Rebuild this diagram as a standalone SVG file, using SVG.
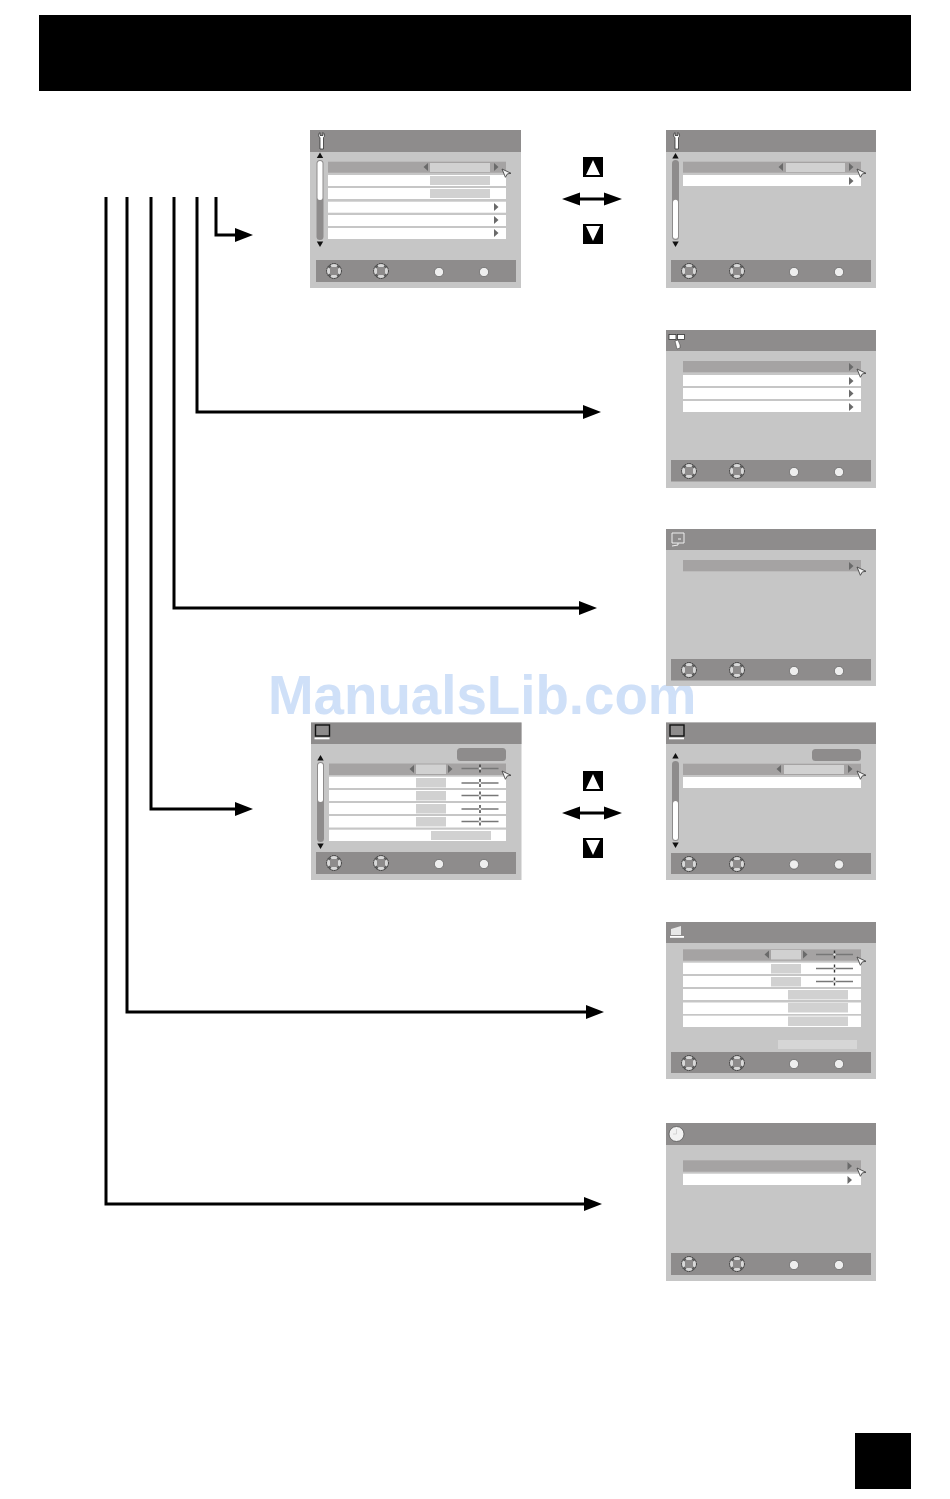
<svg xmlns="http://www.w3.org/2000/svg" width="950" height="1499" viewBox="0 0 950 1499">
<style>
.panel{fill:#c6c6c6}
.bar{fill:#8e8c8c}
.hi{fill:#a5a3a3}
.row{fill:#fff}
.val{fill:#d1d1d1}
.scroll{fill:#8e8c8c}
.thumb{fill:#fff}
.tri{fill:#6a6a6a}
.blk{fill:#000}
.wire{fill:none;stroke:#000;stroke-width:3}
.slide{stroke:#777;stroke-width:1.6;fill:none}
.ico{fill:#fff;stroke:#333;stroke-width:.8}
.wm{font-family:"Liberation Sans",Arial,sans-serif;font-weight:700;font-size:54.7px;fill:#cfe0f8}
</style>
<defs>
<g id="pad"><circle r="7.4" fill="#5e5e5e" stroke="#333" stroke-width=".9" stroke-dasharray="1.6 .9"/><path d="M-3.500-6A7 7 0 0 1 3.500-6L2.300-3.500H-2.300ZM-3.500 6A7 7 0 0 0 3.500 6L2.300 3.500H-2.300ZM-6-3.500A7 7 0 0 0-6 3.500L-3.500 2.300V-2.300ZM6-3.500A7 7 0 0 1 6 3.500L3.500 2.300V-2.300Z" fill="#d8d8d8"/><rect x="-4" y="-4" width="8" height="8" rx="1" fill="#8e8c8c"/></g>
<circle id="dot" r="4.6" fill="#eee" stroke="#555" stroke-width=".6"/>
<path id="cur" d="M0 0L9 4.300 5.400 4.900 3.400 8.300Z" fill="#f2f2f2" stroke="#444" stroke-width=".9"/>
<path id="tr" class="tri" d="M0-4L4.500 0 0 4Z"/>
<path id="tl" class="tri" d="M0-4L-4.500 0 0 4Z"/>
<path id="su" d="M-3.200 2.500H3.200L0-3Z" fill="#111"/>
<path id="sd" d="M-3.200-2.500H3.200L0 3Z" fill="#111"/>
<g id="sl"><path class="slide" d="M0 0H37"/><path d="M18.500-4V4" stroke="#333" stroke-width="1.400"/><circle cx="18.500" r="1.200" fill="#eee"/></g>
<marker id="ah" markerUnits="userSpaceOnUse" markerWidth="18" markerHeight="14" refX="8" refY="7" orient="auto"><path d="M0 0L18 7 0 14Z" fill="#000"/></marker>
<path id="wrench" d="M-2-1.500V-3.500C-4-4.500-4-7-2-8.500V-5.500H1V-8.500C3-7 3-4.500 1.500-3.500V8H-2Z" class="ico"/>
<g id="tv"><rect x="-7" y="-8" width="14" height="11" fill="#8e8c8c" stroke="#111" stroke-width="1.400"/><rect x="-8" y="4.500" width="15" height="1.800" fill="#fff"/></g>
<g id="nav"><path class="blk" d="M-10-10H10V10H-10Z"/><path d="M-7 8H7L0-7Z" fill="#fff"/></g>
<g id="dbl"><path d="M-18 0H18" stroke="#000" stroke-width="3"/><path d="M-30 0L-12-6.500V6.500ZM30 0L12-6.500V6.500Z" fill="#000"/></g>
</defs>

<rect id="title-band" x="39" y="15" width="872" height="76" fill="#000"/>
<rect id="page-tab" x="855" y="1433" width="56" height="56" fill="#000"/>
<text class="wm" x="268" y="714">ManualsLib.com</text>

<g id="connectors">
<path class="wire" marker-end="url(#ah)" d="M216 197V235H243"/>
<path class="wire" marker-end="url(#ah)" d="M197 197V412H591"/>
<path class="wire" marker-end="url(#ah)" d="M174 197V608H587"/>
<path class="wire" marker-end="url(#ah)" d="M151 197V809H243"/>
<path class="wire" marker-end="url(#ah)" d="M127 197V1012H594"/>
<path class="wire" marker-end="url(#ah)" d="M106 197V1204H592"/>
</g>

<g id="nav-top">
<use href="#nav" x="593" y="167"/>
<use href="#dbl" x="592" y="199"/>
<use href="#nav" transform="translate(593 234) scale(1 -1)"/>
</g>
<g id="nav-lower">
<use href="#nav" x="593" y="781"/>
<use href="#dbl" x="592" y="813"/>
<use href="#nav" transform="translate(593 848) scale(1 -1)"/>
</g>

<g id="screen-a">
<rect class="panel" x="310" y="130" width="211" height="158"/>
<rect class="bar" x="310" y="130" width="211" height="22"/>
<use href="#wrench" x="322" y="141"/>
<rect class="scroll" x="316.500" y="160" width="7" height="80" rx="3.500"/>
<rect class="thumb" x="317.500" y="161" width="5" height="39" rx="2.500"/>
<use href="#su" x="320" y="155.500"/><use href="#sd" x="320" y="244"/>
<rect class="hi" x="328" y="161.700" width="178" height="11"/>
<rect class="row" x="328" y="175" width="178" height="11"/>
<rect class="row" x="328" y="188" width="178" height="11"/>
<rect class="row" x="328" y="201.700" width="178" height="11"/>
<rect class="row" x="328" y="215" width="178" height="11"/>
<rect class="row" x="328" y="228" width="178" height="11"/>
<rect class="val" x="430" y="163" width="60" height="9"/>
<rect class="val" x="430" y="176" width="60" height="9"/>
<rect class="val" x="430" y="189" width="60" height="9"/>
<use href="#tl" x="428" y="167"/><use href="#tr" x="494" y="167"/>
<use href="#tr" x="494" y="207"/><use href="#tr" x="494" y="220"/><use href="#tr" x="494" y="233"/>
<use href="#cur" x="502" y="169"/>
<rect class="bar" x="316" y="260" width="200" height="22"/>
<use href="#pad" x="334" y="271"/><use href="#pad" x="381" y="271"/>
<use href="#dot" x="439" y="272"/><use href="#dot" x="484" y="272"/>
</g>

<g id="screen-b">
<rect class="panel" x="666" y="130" width="210" height="158"/>
<rect class="bar" x="666" y="130" width="210" height="22"/>
<use href="#wrench" x="677" y="141"/>
<rect class="scroll" x="672" y="160" width="7" height="80" rx="3.500"/>
<rect class="thumb" x="673" y="199.700" width="5" height="39" rx="2.500"/>
<use href="#su" x="675.500" y="156"/><use href="#sd" x="675.500" y="244"/>
<rect class="hi" x="683" y="161.700" width="178" height="11"/>
<rect class="row" x="683" y="175" width="178" height="11"/>
<rect class="val" x="786" y="163" width="59" height="9"/>
<use href="#tl" x="783" y="167"/><use href="#tr" x="849" y="167"/><use href="#tr" x="849" y="181"/>
<use href="#cur" x="857" y="169"/>
<rect class="bar" x="671" y="260" width="200" height="22"/>
<use href="#pad" x="689" y="271"/><use href="#pad" x="737" y="271"/>
<use href="#dot" x="794" y="272"/><use href="#dot" x="839" y="272"/>
</g>

<g id="screen-c">
<rect class="panel" x="666" y="330" width="210" height="158"/>
<rect class="bar" x="666" y="330" width="210" height="21"/>
<rect x="669" y="334.500" width="7" height="5" class="ico"/><rect x="677.500" y="334.500" width="7" height="5" class="ico"/>
<path d="M675 341L678 340 680 345V348L677 349Z" fill="#fff" stroke="#333" stroke-width=".5"/>
<rect class="hi" x="683" y="361" width="178" height="11.300"/>
<rect class="row" x="683" y="375" width="178" height="11"/>
<rect class="row" x="683" y="388" width="178" height="11"/>
<rect class="row" x="683" y="401" width="178" height="11"/>
<use href="#tr" x="849" y="367"/><use href="#tr" x="849" y="381"/><use href="#tr" x="849" y="393.500"/><use href="#tr" x="849" y="407"/>
<use href="#cur" x="857" y="369"/>
<rect class="bar" x="671" y="460" width="200" height="21.500"/>
<use href="#pad" x="689" y="471"/><use href="#pad" x="737" y="471"/>
<use href="#dot" x="794" y="472"/><use href="#dot" x="839" y="472"/>
</g>

<g id="screen-d">
<rect class="panel" x="666" y="529" width="210" height="157"/>
<rect class="bar" x="666" y="529" width="210" height="21"/>
<path d="M672 533H684V543H672ZM672 546L678 545V543M678 539H681" fill="none" stroke="#eee" stroke-width="1"/>
<rect class="hi" x="683" y="560" width="178" height="11.300"/>
<use href="#tr" x="849" y="566"/>
<use href="#cur" x="857" y="567"/>
<rect class="bar" x="671" y="659" width="200" height="21.500"/>
<use href="#pad" x="689" y="670"/><use href="#pad" x="737" y="670"/>
<use href="#dot" x="794" y="671"/><use href="#dot" x="839" y="671"/>
</g>

<g id="screen-e">
<rect class="panel" x="311" y="722.500" width="210.500" height="157.500"/>
<rect class="bar" x="311" y="722.500" width="210.500" height="21.500"/>
<use href="#tv" x="322.500" y="733"/>
<rect x="457" y="748" width="49" height="13" rx="3.500" fill="#8e8c8c"/>
<rect class="scroll" x="317" y="762" width="7" height="80" rx="3.500"/>
<rect class="thumb" x="318" y="763" width="5" height="39" rx="2.500"/>
<use href="#su" x="320.500" y="758"/><use href="#sd" x="320.500" y="846"/>
<rect class="hi" x="329" y="763.500" width="177" height="11.500"/>
<rect class="row" x="329" y="776.700" width="177" height="11.300"/>
<rect class="row" x="329" y="790" width="177" height="11"/>
<rect class="row" x="329" y="803" width="177" height="11"/>
<rect class="row" x="329" y="816" width="177" height="11.500"/>
<rect class="row" x="329" y="829.700" width="177" height="11.300"/>
<rect class="val" x="416" y="764.500" width="30" height="9.500"/>
<rect class="val" x="416" y="778" width="30" height="9.500"/>
<rect class="val" x="416" y="791" width="30" height="9.500"/>
<rect class="val" x="416" y="804" width="30" height="9.500"/>
<rect class="val" x="416" y="817" width="30" height="9.500"/>
<rect class="val" x="431" y="831" width="60" height="9"/>
<use href="#tl" x="414" y="769"/><use href="#tr" x="448" y="769"/>
<use href="#sl" x="461.500" y="768.500"/><use href="#sl" x="461.500" y="783"/><use href="#sl" x="461.500" y="795.500"/><use href="#sl" x="461.500" y="809"/><use href="#sl" x="461.500" y="821.500"/>
<use href="#cur" x="502" y="771"/>
<rect class="bar" x="316" y="852" width="200" height="22"/>
<use href="#pad" x="334" y="863"/><use href="#pad" x="381" y="863"/>
<use href="#dot" x="439" y="864"/><use href="#dot" x="484" y="864"/>
</g>

<g id="screen-f">
<rect class="panel" x="666" y="722.500" width="210" height="157.500"/>
<rect class="bar" x="666" y="722.500" width="210" height="21.500"/>
<use href="#tv" x="677" y="733"/>
<rect x="812" y="749" width="49" height="12" rx="3.500" fill="#8e8c8c"/>
<rect class="scroll" x="672" y="761" width="7" height="80" rx="3.500"/>
<rect class="thumb" x="673" y="801" width="5" height="39" rx="2.500"/>
<use href="#su" x="675.500" y="756"/><use href="#sd" x="675.500" y="845"/>
<rect class="hi" x="683" y="763.700" width="178" height="11.300"/>
<rect class="row" x="683" y="777" width="178" height="11"/>
<rect class="val" x="784" y="765" width="60" height="9"/>
<use href="#tl" x="781" y="769"/><use href="#tr" x="848" y="769"/>
<use href="#cur" x="857" y="771"/>
<rect class="bar" x="671" y="853" width="200" height="21"/>
<use href="#pad" x="689" y="864"/><use href="#pad" x="737" y="864"/>
<use href="#dot" x="794" y="864.500"/><use href="#dot" x="839" y="864.500"/>
</g>

<g id="screen-g">
<rect class="panel" x="666" y="922" width="210" height="157"/>
<rect class="bar" x="666" y="922" width="210" height="21"/>
<path d="M671 929L681 926V935H671Z" fill="#e8e8e8"/><rect x="670" y="936" width="14" height="1.800" fill="#fff"/>
<rect class="hi" x="683" y="949.300" width="178" height="11.400"/>
<rect class="row" x="683" y="962.700" width="178" height="11.300"/>
<rect class="row" x="683" y="976" width="178" height="11"/>
<rect class="row" x="683" y="989" width="178" height="11"/>
<rect class="row" x="683" y="1002.500" width="178" height="11.500"/>
<rect class="row" x="683" y="1015.700" width="178" height="11.300"/>
<rect class="val" x="771" y="950" width="30" height="9.500"/>
<rect class="val" x="771" y="964" width="30" height="9.500"/>
<rect class="val" x="771" y="977" width="30" height="9.500"/>
<rect class="val" x="788" y="990" width="60" height="9.500"/>
<rect class="val" x="788" y="1003" width="60" height="9.500"/>
<rect class="val" x="788" y="1016.500" width="60" height="9.500"/>
<rect x="778" y="1040" width="79" height="9" fill="#d6d6d6"/>
<use href="#tl" x="769" y="954.500"/><use href="#tr" x="803" y="954.500"/>
<use href="#sl" x="816" y="954.500"/><use href="#sl" x="816" y="968.500"/><use href="#sl" x="816" y="981.500"/>
<use href="#cur" x="857" y="957"/>
<rect class="bar" x="671" y="1052" width="200" height="21"/>
<use href="#pad" x="689" y="1063"/><use href="#pad" x="737" y="1063"/>
<use href="#dot" x="794" y="1064"/><use href="#dot" x="839" y="1064"/>
</g>

<g id="screen-h">
<rect class="panel" x="666" y="1123" width="210" height="158"/>
<rect class="bar" x="666" y="1123" width="210" height="22"/>
<circle cx="676.500" cy="1134" r="7.500" fill="#f2f2f2" stroke="#555" stroke-width=".8"/>
<path d="M676.500 1129V1134H673" fill="none" stroke="#ccc" stroke-width=".8"/>
<rect class="hi" x="683" y="1160.300" width="178" height="11.400"/>
<rect class="row" x="683" y="1173.700" width="178" height="11.300"/>
<use href="#tr" x="847.500" y="1166"/><use href="#tr" x="847.500" y="1180"/>
<use href="#cur" x="857" y="1168"/>
<rect class="bar" x="671" y="1253" width="200" height="22"/>
<use href="#pad" x="689" y="1264"/><use href="#pad" x="737" y="1264"/>
<use href="#dot" x="794" y="1265"/><use href="#dot" x="839" y="1265"/>
</g>
</svg>
